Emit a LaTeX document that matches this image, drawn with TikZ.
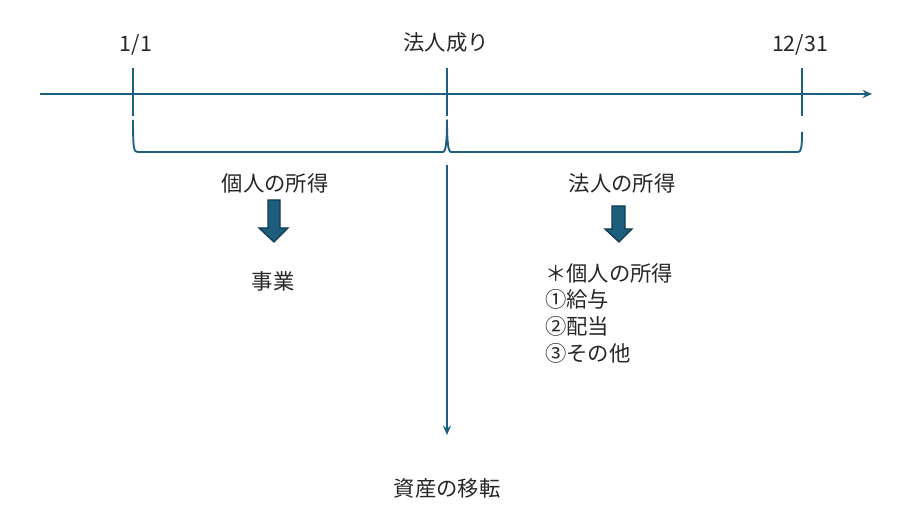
\documentclass[tikz,border=0pt]{standalone}
\usepackage{fontspec}
\setmainfont{Noto Sans CJK JP}
\usepackage{tikz}
\usetikzlibrary{arrows.meta, positioning, calc}
\definecolor{lineblue}{HTML}{1C5F80}
\definecolor{arrowfill}{HTML}{1D5E7D}
\definecolor{arrowedge}{HTML}{0F3A50}
\definecolor{textgray}{HTML}{262626}

\begin{document}
\begin{tikzpicture}[x=0.75pt, y=-0.75pt,
  axisline/.style={lineblue, line width=1.4pt},
  label/.style={textgray, font=\fontsize{16}{16}\selectfont, inner sep=0pt},
  blockarrow/.style={fill=arrowfill, draw=arrowedge, line width=1pt}]
  \useasboundingbox (0,0) rectangle (918,520);

  % timeline
  \coordinate (start) at (40,94);
  \coordinate (finish) at (872,94);
  \draw[axisline, -{Stealth[length=7pt, width=6pt]}] (start) -- (finish);

  \coordinate (jan) at (133,94);
  \coordinate (incorp) at (447,94);
  \coordinate (dec) at (802,94);
  \draw[axisline] ($(jan)+(0,-26)$) -- ($(jan)+(0,22)$);
  \draw[axisline] ($(incorp)+(0,-26)$) -- ($(incorp)+(0,22)$);
  \draw[axisline] ($(dec)+(0,-26)$) -- ($(dec)+(0,22)$);

  \node[label] (janlabel) at (136,45) {1/1};
  \node[label] (incorplabel) at (446,42) {法人成り};
  \node[label] (declabel) at (800,45) {12/31};

  % bracket under the timeline
  \draw[axisline, line join=round]
    (133,120) .. controls (133,150) and (134,152) .. (138,152) -- (443,152)
    .. controls (446,152) and (447,140) .. (447,120)
    .. controls (447,140) and (448,152) .. (451,152) -- (798,152)
    .. controls (801,152) and (802,148) .. (802,132);

  % transfer of assets
  \coordinate (transtop) at (447,165);
  \coordinate (transend) at (447,435);
  \draw[axisline, -{Stealth[length=7pt, width=6pt]}] (transtop) -- (transend);
  \node[label] (transfer) at (447,488) {資産の移転};

  % left side
  \node[label] (personal) at (275,183) {個人の所得};
  \filldraw[blockarrow] (268,200) -- (280,200) -- (280,228) -- (288,228)
    -- (274,242) -- (259,228) -- (268,228) -- cycle;
  \node[label] (business) at (273,281) {事業};

  % right side
  \node[label] (corporate) at (622,183) {法人の所得};
  \filldraw[blockarrow] (612,206) -- (625,206) -- (625,229) -- (632,229)
    -- (619,242) -- (605,229) -- (612,229) -- cycle;
  \node[label, anchor=north west, align=left, font=\fontsize{16}{20}\selectfont]
    (income) at (545,263) {＊個人の所得\\①給与\\②配当\\③その他};
\end{tikzpicture}
\end{document}
